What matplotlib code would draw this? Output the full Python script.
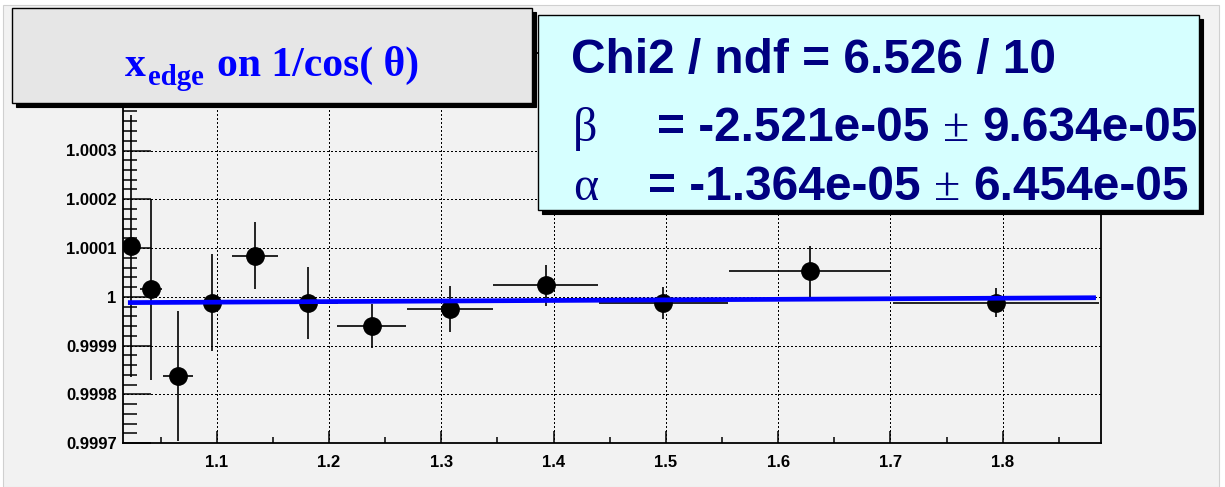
import numpy as np
import matplotlib
matplotlib.use("Agg")
import matplotlib.pyplot as plt
from matplotlib.patches import Rectangle
from matplotlib.ticker import MultipleLocator, FuncFormatter

# values
inv_cos = [1.0235, 1.0415, 1.0658, 1.0958, 1.1341, 1.1816, 1.2381, 1.3078, 1.3930, 1.4977, 1.6284, 1.7940]
inv_cos_err = [0.0083, 0.0100, 0.0134, 0.0170, 0.0208, 0.0267, 0.0309, 0.0380, 0.0467, 0.0576, 0.0720, 0.0920]
x_edge = [1.000104, 1.000015, 0.999837, 0.999988, 1.000084, 0.999988,
          0.999940, 0.999975, 1.000024, 0.999988, 1.000052, 0.999988]
x_edge_err = [0.000268, 0.000185, 0.000133, 0.000100, 0.000069, 0.000074,
              0.000046, 0.000047, 0.000042, 0.000033, 0.000053, 0.000030]
fit_x = [1.021, 1.883]
fit_y = [0.999988, 0.999998]

stat_lines = ["Chi2 / ndf = 6.526 / 10",
              ["\u03b2", "= -2.521e-05", "\u00b1", "9.634e-05"],
              ["\u03b1", "= -1.364e-05", "\u00b1", "6.454e-05"]]

W, H = 1225, 487
PT = 0.72  # points per pixel at dpi 100


def fx(px):
    return px / W


def fy(py):
    return 1 - py / H


fig = plt.figure(figsize=(W / 100, H / 100), dpi=100, facecolor="white")
renderer = fig.canvas.get_renderer()

# pad background
fig.add_artist(Rectangle((fx(3), 0), fx(1219 - 3), fy(5), transform=fig.transFigure,
                         facecolor="#f2f2f2", edgecolor="#d0d0d0", lw=0.8, zorder=-10))

ax = fig.add_axes([fx(123), fy(443), fx(1101 - 123), (443 - 53) / H])
ax.set_facecolor("#f2f2f2")

ax.errorbar(inv_cos, x_edge, xerr=inv_cos_err, yerr=x_edge_err, fmt="o", ms=12.5,
            mfc="black", mec="black", ecolor="black", elinewidth=1.2, capsize=0, zorder=3)
ax.plot(fit_x, fit_y, color="#0000ff", lw=3.4, solid_capstyle="butt", zorder=4)

ax.set_xlim(1.0166, 1.8875)
ax.set_ylim(0.9997, 1.0005)

ax.xaxis.set_major_locator(MultipleLocator(0.1))
ax.xaxis.set_minor_locator(MultipleLocator(0.05))
ax.yaxis.set_major_locator(MultipleLocator(0.0001))
ax.yaxis.set_minor_locator(MultipleLocator(0.00002))
ax.yaxis.set_major_formatter(FuncFormatter(lambda v, _: f"{v:.4f}".rstrip("0").rstrip(".")))
ax.xaxis.set_major_formatter(FuncFormatter(lambda v, _: f"{v:.1f}"))

ax.tick_params(axis="y", which="major", direction="in", length=28 * PT, width=1.1, pad=4.5)
ax.tick_params(axis="y", which="minor", direction="in", length=14 * PT, width=1.1)
ax.tick_params(axis="x", which="major", direction="in", length=12 * PT, width=1.1, pad=8.5)
ax.tick_params(axis="x", which="minor", direction="in", length=6 * PT, width=1.1)
for lab in ax.get_xticklabels() + ax.get_yticklabels():
    lab.set_fontfamily("Liberation Sans")
    lab.set_fontweight("bold")
    lab.set_fontsize(12)

ax.grid(True, which="major", color="black", linestyle=(0, (1.4, 2.4)), linewidth=0.75,
        antialiased=False)
ax.set_axisbelow(True)
for sp in ax.spines.values():
    sp.set_linewidth(1.3)


def box(x0, y0, x1, y1, color, shadow=4):
    fig.add_artist(Rectangle((fx(x0 + shadow), fy(y1 + shadow)), fx(x1 - x0), (y1 - y0) / H,
                             transform=fig.transFigure, facecolor="black", edgecolor="black",
                             lw=0.8, zorder=10))
    fig.add_artist(Rectangle((fx(x0), fy(y1)), fx(x1 - x0), (y1 - y0) / H,
                             transform=fig.transFigure, facecolor=color, edgecolor="black",
                             lw=1.0, zorder=11))


# title box
box(12, 8, 532, 103, "#e6e6e6")
tkw = dict(color="#0000ff", fontfamily="Liberation Serif", fontweight="bold",
           ha="left", va="baseline", zorder=12)
fig.text(fx(125), fy(76), "x", fontsize=30, **tkw)
fig.text(fx(148), fy(85), "edge", fontsize=20.7, **tkw)
fig.text(fx(217), fy(76), "on 1/cos( \u03b8)", fontsize=30, **tkw)

# fit statistics box
box(538, 15, 1199, 210, "#d6ffff")
navy = "#000080"
fs = 34.5
gap = 0.278 * fs / PT
skw = dict(color=navy, va="baseline", ha="left", zorder=12, fontsize=fs)
sans = dict(fontfamily="Liberation Sans", fontweight="bold")
serif = dict(fontfamily="Liberation Serif", fontweight="normal")
fig.text(fx(571), fy(73), stat_lines[0], **sans, **skw)
for parts, base, x_greek, x_eq in [(stat_lines[1], 141, 573, 657),
                                   (stat_lines[2], 200, 573, 648)]:
    fig.text(fx(x_greek), fy(base), parts[0], **serif, **skw)
    xp = x_eq
    for i, txt in enumerate(parts[1:]):
        t = fig.text(fx(xp), fy(base), txt, **(serif if i == 1 else sans), **skw)
        xp = t.get_window_extent(renderer).x1 + gap

fig.savefig("out.png", dpi=100, facecolor=fig.get_facecolor())
